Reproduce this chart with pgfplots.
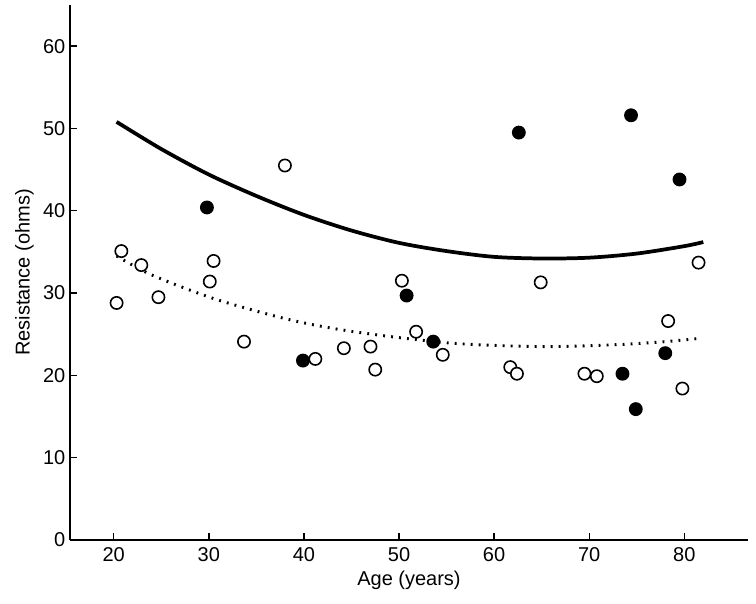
\documentclass[border=0pt]{standalone}
\usepackage{fontspec}
\setmainfont{Liberation Sans}
\usepackage{pgfplots}
\pgfplotsset{compat=1.18}

\begin{document}
\begin{tikzpicture}
\begin{axis}[
  scale only axis, width=508.5pt, height=401.25pt,
  xmin=15.4, xmax=86.7, ymin=0, ymax=65,
  axis x line*=bottom, axis y line*=left,
  axis line style={-, line width=1pt},
  tick align=inside, major tick length=5pt,
  tick style={line width=1pt, black},
  xtick={20,30,...,80}, ytick={0,10,...,60},
  font=\fontsize{15}{18}\selectfont,
  /pgf/number format/assume math mode=true,
  xlabel={Age (years)}, ylabel={Resistance (ohms)},
  xticklabel style={yshift=-2pt},
]
\coordinate (ll) at (rel axis cs:0,0);
\coordinate (ur) at (rel axis cs:1,1);

% fitted curves
\addplot[black, line width=2.8pt, smooth] coordinates {
  (20.3,50.8) (25,47.5) (30,44.4) (35,41.8) (40,39.5) (45,37.6) (50,36.1)
  (55,35.1) (60,34.4) (65,34.2) (70,34.3) (75,34.8) (80,35.7) (82,36.2)
};
\addplot[black, line width=2.2pt, dash pattern=on 1.4pt off 4.6pt, smooth] coordinates {
  (20.3,34.5) (24,32.2) (30.6,29.3) (38,26.9) (43.6,25.6) (49.9,24.6)
  (55.7,23.9) (61,23.6) (66.2,23.5) (73.2,23.75) (78,24.1) (81.6,24.5)
};

% open circles
\addplot[only marks, mark=*, mark size=4.6pt,
  mark options={fill=white, draw=black, line width=1.2pt}] coordinates {
  (20.3,28.8) (20.8,35.1) (22.9,33.4) (24.7,29.5) (30.1,31.4) (30.5,33.9)
  (33.7,24.1) (38.0,45.5) (41.2,22.0) (44.2,23.3) (47.0,23.5) (47.5,20.7)
  (50.3,31.5) (51.8,25.3) (54.6,22.5) (61.7,21.0) (62.4,20.2) (64.9,31.3)
  (69.5,20.2) (70.8,19.9) (78.3,26.6) (79.8,18.4) (81.5,33.7)
};

% filled circles
\addplot[only marks, mark=*, mark size=4.6pt,
  mark options={fill=black, draw=black, line width=1.2pt}] coordinates {
  (29.8,40.4) (39.9,21.8) (50.8,29.7) (53.6,24.1) (62.6,49.5)
  (73.5,20.2) (74.4,51.6) (74.9,15.9) (78.0,22.7) (79.5,43.8)
};
\end{axis}
\pgfresetboundingbox
\path ([shift={(-52.5pt,-48pt)}]ll) rectangle ([shift={(6pt,3.75pt)}]ur);
\end{tikzpicture}
\end{document}
